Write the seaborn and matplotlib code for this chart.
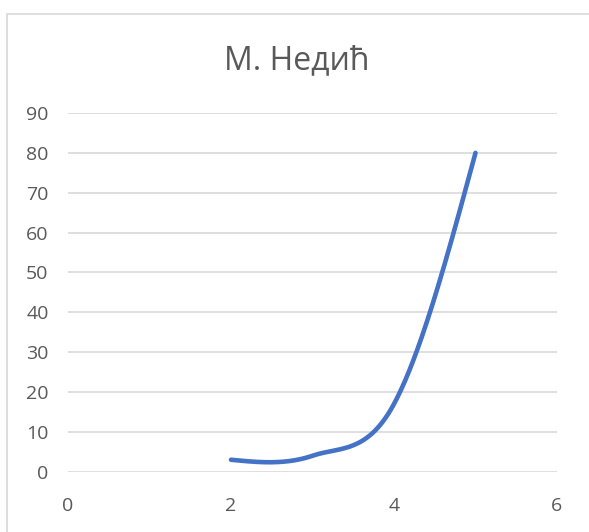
import numpy as np
import pandas as pd
import matplotlib
matplotlib.use("Agg")
import matplotlib.pyplot as plt
import seaborn as sns
from matplotlib.patches import Rectangle

# data
x_vals = [2, 3, 4, 5]
y_vals = [3, 4, 17, 80]
title = "М. Недић"
x_ticks = [0, 2, 4, 6]
y_ticks = [0, 10, 20, 30, 40, 50, 60, 70, 80, 90]

# Excel-like smooth curve (cubic Hermite with Catmull-Rom tangents)
xs = np.array(x_vals, dtype=float)
ys = np.array(y_vals, dtype=float)
n = len(xs)
m = np.zeros(n)
for i in range(1, n - 1):
    m[i] = (ys[i + 1] - ys[i - 1]) / (xs[i + 1] - xs[i - 1])
m[0] = (3 * (ys[1] - ys[0]) / (xs[1] - xs[0]) - m[1]) / 2
m[-1] = (3 * (ys[-1] - ys[-2]) / (xs[-1] - xs[-2]) - m[-2]) / 2
sx, sy = [], []
for i in range(n - 1):
    h = xs[i + 1] - xs[i]
    t = np.linspace(0, 1, 60)
    h00 = 2 * t**3 - 3 * t**2 + 1
    h10 = t**3 - 2 * t**2 + t
    h01 = -2 * t**3 + 3 * t**2
    h11 = t**3 - t**2
    sx.extend(xs[i] + t * h)
    sy.extend(h00 * ys[i] + h10 * h * m[i] + h01 * ys[i + 1] + h11 * h * m[i + 1])
df = pd.DataFrame({"x": sx, "y": sy})

sns.set_theme(style="white")
plt.rcParams['font.family'] = ['Open Sans', 'DejaVu Sans']

fig = plt.figure(figsize=(5.89, 5.32), dpi=100)
fig.patches.append(Rectangle((7 / 589, -0.1), 1.2, 1 - 14 / 532 + 0.1,
                             transform=fig.transFigure, fill=False,
                             edgecolor="#D9D9D9", linewidth=1.2))
ax = fig.add_axes([68 / 589, 1 - 471.7 / 532, (557 - 68) / 589, (471.7 - 113) / 532])

sns.lineplot(data=df, x="x", y="y", ax=ax, color="#4472C4", linewidth=3.3,
             sort=False, estimator=None, solid_capstyle="round")

ax.set_xlim(0, 6)
ax.set_ylim(0, 90)
ax.set_xticks(x_ticks)
ax.set_yticks(y_ticks)
ax.set_xlabel("")
ax.set_ylabel("")
for s in ax.spines.values():
    s.set_visible(False)
ax.yaxis.grid(True, color="#D9D9D9", linewidth=1.2)
ax.xaxis.grid(False)
ax.set_axisbelow(True)
ax.tick_params(axis="y", length=0, pad=14, labelsize=14, labelcolor="#595959")
ax.tick_params(axis="x", length=0, pad=18, labelsize=14, labelcolor="#595959")
ax.set_facecolor("none")

fig.text(297 / 589, 1 - 61 / 532, title, ha="center", va="center",
         fontsize=23, color="#595959")

fig.savefig("out.png", dpi=100, facecolor="white")
